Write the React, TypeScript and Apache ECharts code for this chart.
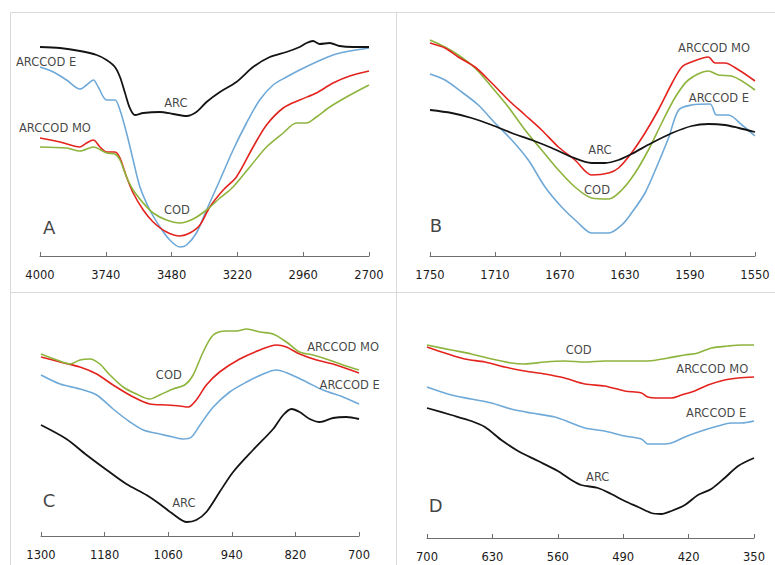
import React, { useEffect, useRef } from "react";
import * as echarts from "echarts";

// Panel A (4000-2700 cm-1)
const A_TICKS = [4000, 3740, 3480, 3220, 2960, 2700];
const A_ARC = [[4000,209],[3921,208],[3842,205],[3776,201],[3737,196],[3704,189],[3684,179],[3664,163],[3645,148],[3625,141],[3592,143],[3526,144],[3474,142],[3421,140],[3382,144],[3342,154],[3289,164],[3224,174],[3158,189],[3092,199],[3026,204],[2974,209],[2947,213],[2921,215],[2895,212],[2855,213],[2816,210],[2763,209],[2700,209]];
const A_E = [[4000,189],[3947,184],[3895,176],[3842,167],[3816,171],[3789,176],[3770,169],[3737,156],[3704,156],[3684,146],[3658,123],[3632,96],[3605,69],[3566,46],[3526,29],[3487,16],[3447,9],[3421,11],[3382,23],[3342,46],[3289,76],[3237,106],[3184,133],[3132,156],[3079,171],[3026,179],[2974,186],[2908,194],[2842,201],[2776,205],[2700,208]];
const A_MO = [[4000,118],[3921,114],[3842,109],[3816,113],[3789,116],[3763,109],[3737,104],[3704,104],[3684,98],[3658,79],[3632,63],[3592,46],[3553,34],[3500,24],[3447,20],[3408,23],[3368,31],[3329,49],[3276,66],[3224,79],[3158,109],[3105,131],[3039,148],[2974,156],[2908,163],[2842,173],[2776,180],[2700,185]];
const A_COD = [[4000,109],[3895,108],[3842,105],[3789,109],[3737,103],[3704,102],[3684,96],[3658,79],[3632,66],[3592,53],[3553,43],[3500,36],[3447,33],[3395,37],[3342,46],[3289,58],[3237,69],[3171,89],[3105,109],[3039,123],[2987,133],[2947,133],[2908,139],[2855,149],[2789,159],[2700,171]];
const A_LABELS = [[3976,194,"ARCCOD E"],[3463,153,"ARC"],[3941,128,"ARCCOD MO"],[3459,46,"COD"]];

// Panel B (1750-1550 cm-1)
const B_TICKS = [1750, 1710, 1670, 1630, 1590, 1550];
const B_ARC = [[1750,146],[1736.7,143],[1724.4,138],[1712,131],[1699.7,123],[1687.4,116],[1675,108],[1662.8,99],[1650.5,93],[1642.3,93],[1634,96],[1626,102],[1613.6,113],[1601,123],[1589,130],[1578.7,132],[1568.5,131],[1560,128],[1550,124]];
const B_MO = [[1750,213],[1740.8,208],[1732.6,199],[1722.3,189],[1712,173],[1701.8,156],[1691.5,141],[1681.3,126],[1671,109],[1660.8,96],[1650.5,81],[1640,83],[1634,88],[1626,103],[1617.7,123],[1609.5,146],[1601,173],[1595,189],[1589,194],[1578.7,199],[1574.6,193],[1568.5,193],[1560,186],[1550,175]];
const B_COD = [[1750,216],[1740.8,209],[1732.6,201],[1722.3,188],[1712,169],[1701.8,149],[1691.5,126],[1681.3,106],[1671,86],[1660.8,69],[1650.5,58],[1640,57],[1632,66],[1623.8,83],[1615.6,106],[1607.4,133],[1599,159],[1591,176],[1578.7,185],[1572.6,181],[1564.4,180],[1550,166]];
const B_E = [[1750,182],[1740.8,176],[1730.5,164],[1720.3,151],[1710,133],[1699.7,116],[1689.5,96],[1679.2,69],[1669,49],[1658.7,33],[1650.5,23],[1640,23],[1632,31],[1626,43],[1617.7,63],[1609.5,93],[1603,119],[1597,146],[1589,151],[1577.7,152],[1573.6,141],[1566.4,141],[1558,131],[1550,120]];
const B_LABELS = [[1575.2,208,"ARCCOD MO"],[1572.2,158,"ARCCOD E"],[1645.4,106,"ARC"],[1647.2,66,"COD"]];

// Panel C (1300-700 cm-1)
const C_TICKS = [1300, 1180, 1060, 940, 820, 700];
const C_ARC = [[1300,111],[1252,97],[1214,81],[1176,66],[1139,52],[1101,41],[1076,32],[1051,22],[1025,14],[1007,16],[988,24],[963,44],[937.5,64],[900,86],[862,107],[843,121],[827.5,127],[812,124],[793,117],[774,114],[749,118],[724,119],[700,117]];
const C_MO = [[1300,179],[1264,174],[1226.5,169],[1195,162],[1164,151],[1126,139],[1095,132],[1063,131],[1038,130],[1022,129],[1007,136],[988,151],[963,164],[925,177],[887,186],[856,191],[837,189],[812,182],[780,176],[749,172],[700,163]];
const C_COD = [[1300,182],[1270,176],[1245,172],[1226.5,176],[1207.6,177],[1189,172],[1170,161],[1145,149],[1120,142],[1095,137],[1076,141],[1051,147],[1029,151],[1013,161],[994,184],[975,201],[950,205],[931,205],[912,207],[887,204],[862,202],[837,194],[812,184],[787,181],[762,177],[730,171],[700,166]];
const C_E = [[1300,161],[1264,152],[1226.5,147],[1195,141],[1164,127],[1132,114],[1107,106],[1076,102],[1051,99],[1032,97],[1016,99],[1000,111],[975,129],[944,144],[912,154],[881,162],[856,166],[831,162],[799,154],[768,146],[730,139],[700,132]];
const C_LABELS = [[1058.8,161,"COD"],[729.9,189,"ARCCOD MO"],[717.6,151,"ARCCOD E"],[1030.5,33,"ARC"]];

// Panel D (700-350 cm-1)
const D_TICKS = [700, 630, 560, 490, 420, 350];
const D_COD = [[700,193],[674,188],[652.6,184],[631,179],[610,175],[595.5,174],[574,176],[552.7,177],[531,176],[510,177],[488.4,177],[463.5,177],[442,180],[424,183],[410,185],[395.7,190],[378,192],[363.6,193],[350,193]];
const D_MO = [[700,191],[681,185],[659.7,179],[638,176],[617,171],[595.5,167],[574,164],[552.7,160],[531,154],[510,152],[488.4,147],[470.6,145],[463.5,141],[452.8,140],[438.5,140],[427.8,143],[413.5,147],[399.3,153],[381.4,158],[367,160],[350,161]];
const D_E = [[700,151],[674,143],[652.6,139],[631,135],[610,129],[588.3,125],[563.4,121],[545.5,115],[531,110],[510,107],[488.4,102],[470.6,99],[463.5,94],[449.2,94],[438.5,95],[424,101],[406.4,107],[388.6,112],[374.3,115],[363.6,115],[350,117]];
const D_ARC = [[700,130],[674,123],[652.6,117],[638,111],[620.4,98],[602.6,87],[581,77],[560,67],[545.5,58],[535,53],[517,50],[502.8,44],[488.4,37],[474,31],[459.9,25],[449.2,24],[438.5,27],[424,33],[410,43],[395.7,49],[381.4,60],[367,72],[350,80]];
const D_LABELS = [[537.6,188,"COD"],[394.7,169,"ARCCOD MO"],[390.5,125,"ARCCOD E"],[517.3,61,"ARC"]];

const PANEL_LETTERS = [[3964,29,"A"],[1746.3,31,"B"],[1284.9,36,"C"],[690.7,33,"D"]];

const COLORS = { ARC: "#141414", E: "#6fa9d8", MO: "#e3231e", COD: "#8db43c" };
const FONT = "DejaVu Sans";

export default function App() {
  const ref = useRef<HTMLDivElement>(null);
  useEffect(() => {
    if (!ref.current) return;
    const chart = echarts.init(ref.current, undefined, { renderer: "svg" });
    const panels = [
      { ticks: A_TICKS, min: 2700, max: 4000, grid: { left: 40, width: 329, top: 20, height: 236 }, series: [["ARC", A_ARC], ["E", A_E], ["MO", A_MO], ["COD", A_COD]], labels: A_LABELS },
      { ticks: B_TICKS, min: 1550, max: 1750, grid: { left: 430, width: 325, top: 20, height: 236 }, series: [["ARC", B_ARC], ["E", B_E], ["COD", B_COD], ["MO", B_MO]], labels: B_LABELS },
      { ticks: C_TICKS, min: 700, max: 1300, grid: { left: 41, width: 318, top: 300, height: 236 }, series: [["ARC", C_ARC], ["E", C_E], ["MO", C_MO], ["COD", C_COD]], labels: C_LABELS },
      { ticks: D_TICKS, min: 350, max: 700, grid: { left: 427, width: 327, top: 302, height: 236 }, series: [["ARC", D_ARC], ["E", D_E], ["MO", D_MO], ["COD", D_COD]], labels: D_LABELS },
    ];
    const grids: any[] = [];
    const xAxes: any[] = [];
    const yAxes: any[] = [];
    const series: any[] = [];
    panels.forEach((p, i) => {
      grids.push({ ...p.grid, containLabel: false });
      xAxes.push({
        type: "value", gridIndex: i, min: p.min, max: p.max, inverse: true,
        axisLine: { show: true, lineStyle: { color: "#6e6e6e", width: 1 } },
        axisTick: { show: true, inside: true, length: 4, lineStyle: { color: "#6e6e6e" }, customValues: p.ticks },
        axisLabel: { show: true, margin: 13, color: "#1a1a1a", fontFamily: FONT, fontSize: 11.5, customValues: p.ticks, showMinLabel: true, showMaxLabel: true, formatter: (v: number) => String(v) },
        splitLine: { show: false },
      });
      yAxes.push({ type: "value", gridIndex: i, min: 0, max: 236, show: false, splitLine: { show: false } });
      p.series.forEach(([key, data]: any) => {
        series.push({
          type: "line", xAxisIndex: i, yAxisIndex: i, data, showSymbol: false, smooth: 0.3,
          lineStyle: { color: (COLORS as any)[key], width: key === "ARC" ? 1.8 : 1.6 },
          itemStyle: { color: (COLORS as any)[key] }, silent: true, z: key === "ARC" ? 3 : 2,
        });
      });
      series.push({
        type: "scatter", xAxisIndex: i, yAxisIndex: i, symbolSize: 0, clip: false, silent: true,
        data: p.labels,
        label: { show: true, position: "inside", formatter: (d: any) => d.value[2], color: "#111111", fontFamily: FONT, fontSize: 11.5 },
      });
      series.push({
        type: "scatter", xAxisIndex: i, yAxisIndex: i, symbolSize: 0, clip: false, silent: true,
        data: [PANEL_LETTERS[i]],
        label: { show: true, position: "inside", formatter: (d: any) => d.value[2], color: "#111111", fontFamily: FONT, fontSize: 18 },
      });
    });
    const border = { stroke: "#d9d9d9", lineWidth: 1 };
    chart.setOption({
      animation: false,
      backgroundColor: "#ffffff",
      grid: grids,
      xAxis: xAxes,
      yAxis: yAxes,
      series,
      graphic: [
        { type: "line", shape: { x1: 10.5, y1: 12.5, x2: 775, y2: 12.5 }, style: border, silent: true },
        { type: "line", shape: { x1: 10.5, y1: 292.5, x2: 775, y2: 292.5 }, style: border, silent: true },
        { type: "line", shape: { x1: 10.5, y1: 12.5, x2: 10.5, y2: 565 }, style: border, silent: true },
        { type: "line", shape: { x1: 396.5, y1: 12.5, x2: 396.5, y2: 565 }, style: border, silent: true },
      ],
    });
    return () => chart.dispose();
  }, []);
  return <div ref={ref} style={{ position: "absolute", left: 0, top: 0, width: 775, height: 565 }} />;
}
